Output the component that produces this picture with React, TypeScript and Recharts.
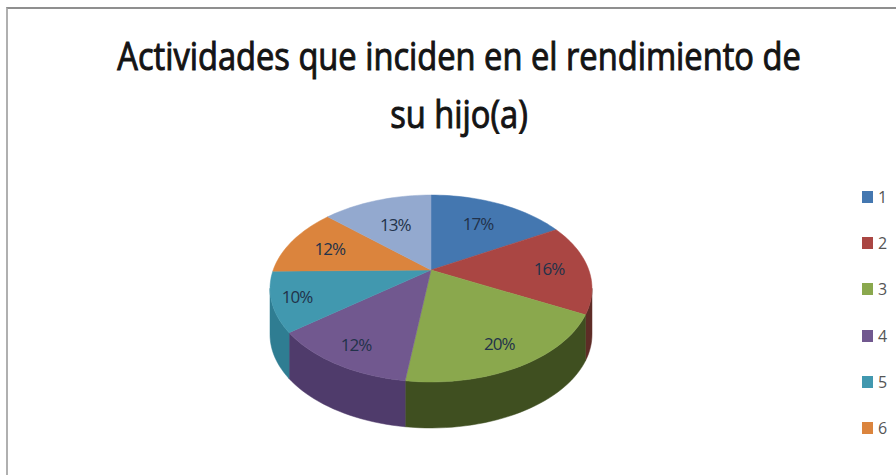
import React from 'react';
import { PieChart, Pie, Cell, Legend } from 'recharts';

const titleLines = ['Actividades que inciden en el rendimiento de', 'su hijo(a)'];
const categories = ['1', '2', '3', '4', '5', '6', '7'];
const values = [16.8, 15.7, 19.6, 12.4, 10.3, 11.9, 13.3];
const legendCategories = ['1', '2', '3', '4', '5', '6'];

const topColors = ['#4477b0', '#aa4643', '#8aa84d', '#71588f', '#4198af', '#db843d', '#93a9cf'];
const wallColors = ['#2c4a70', '#5e2c26', '#3f4f20', '#4f3b6b', '#2f7d92', '#8f5526', '#5f6f88'];
const labelRadii = [0.66, 0.75, 0.8, 0.82, 0.85, 0.72, 0.62];

const data = categories.map((name, i) => ({ name, value: values[i] }));

// Perspective projection of the pie's disc
const SX = 157.8;
const SY = 89.8;
const PERSP = 0.198;
const DEPTH = 46;
const FRONT_FROM = 101.3;
const FRONT_TO = 258.7;

const project = (cx: number, cy: number, clockDeg: number, r = 1) => {
  const a = (clockDeg * Math.PI) / 180;
  const u = r * Math.sin(a);
  const v = -r * Math.cos(a);
  const w = 1 - PERSP * v;
  return { x: cx + (SX * u) / w, y: cy + (SY * v) / w };
};

const arcPoints = (cx: number, cy: number, from: number, to: number) => {
  const pts: { x: number; y: number }[] = [];
  const n = Math.max(2, Math.ceil((to - from) / 2));
  for (let i = 0; i <= n; i++) pts.push(project(cx, cy, from + ((to - from) * i) / n));
  return pts;
};

const toPath = (pts: { x: number; y: number }[]) =>
  'M' + pts.map((p) => `${p.x.toFixed(2)},${p.y.toFixed(2)}`).join('L') + 'Z';

const Slice = (props: any) => {
  const { cx, cy, startAngle, endAngle, index } = props;
  const from = 90 - startAngle;
  const to = 90 - endAngle;
  const i = index ?? 0;
  const top = [{ x: cx, y: cy }, ...arcPoints(cx, cy, from, to)];
  const wallFrom = Math.max(from, FRONT_FROM);
  const wallTo = Math.min(to, FRONT_TO);
  let wall: string | null = null;
  if (wallTo > wallFrom) {
    const rim = arcPoints(cx, cy, wallFrom, wallTo);
    const lower = rim.map((p) => ({ x: p.x, y: p.y + DEPTH })).reverse();
    wall = toPath([...rim, ...lower]);
  }
  return (
    <g>
      {wall && <path d={wall} fill={wallColors[i]} stroke={wallColors[i]} strokeWidth={0.5} />}
      <path d={toPath(top)} fill={topColors[i]} stroke={topColors[i]} strokeWidth={0.5} />
    </g>
  );
};

const SliceLabel = (props: any) => {
  const { cx, cy, midAngle, index, value } = props;
  const p = project(cx, cy, 90 - midAngle, labelRadii[index]);
  return (
    <text
      x={p.x}
      y={p.y}
      textAnchor="middle"
      dominantBaseline="central"
      fontFamily="'Open Sans', sans-serif"
      fontSize={17}
      fill="#22324a"
      style={{ letterSpacing: '-1px' }}
    >
      {Math.round(value)}%
    </text>
  );
};

const LegendContent = () => (
  <div>
    {legendCategories.map((name, i) => (
      <div key={name} style={{ display: 'flex', alignItems: 'center', height: 46.2 }}>
        <span style={{ width: 11, height: 12, background: topColors[i], display: 'inline-block', marginRight: 5 }} />
        <span style={{ fontFamily: "'Open Sans', sans-serif", fontSize: 16, color: '#555' }}>{name}</span>
      </div>
    ))}
  </div>
);

export default function App() {
  return (
    <div style={{ position: 'absolute', left: 0, top: 0, width: 896, height: 475, overflow: 'hidden', background: '#fff' }}>
      <div style={{ position: 'absolute', left: 6, top: 7, width: 900, height: 480, borderTop: '2px solid #8f8f8f', borderLeft: '2px solid #b0b0b0' }} />
      <div
        style={{
          position: 'absolute',
          left: 0,
          top: 26,
          width: 918,
          textAlign: 'center',
          fontFamily: "'Open Sans', sans-serif",
          fontSize: 38,
          lineHeight: '58px',
          color: '#141414',
          WebkitTextStroke: '1px #141414',
          transform: 'scaleX(0.859)',
          transformOrigin: '459px 0',
        }}
      >
        {titleLines.map((t) => (
          <div key={t} style={{ whiteSpace: 'nowrap' }}>{t}</div>
        ))}
      </div>
      <div style={{ position: 'absolute', left: 0, top: 0 }}>
        <PieChart width={896} height={475} margin={{ top: 0, right: 0, bottom: 0, left: 0 }}>
          <Pie
            data={data}
            dataKey="value"
            nameKey="name"
            cx={431}
            cy={270}
            outerRadius={100}
            startAngle={90}
            endAngle={-270}
            stroke="none"
            isAnimationActive={false}
            shape={Slice}
            label={SliceLabel}
            labelLine={false}
          >
            {data.map((d, i) => (
              <Cell key={d.name} fill={topColors[i]} />
            ))}
          </Pie>
          <Legend
            content={LegendContent}
            wrapperStyle={{ position: 'absolute', left: 862, top: 174, width: 34, bottom: 'auto', right: 'auto' }}
          />
        </PieChart>
      </div>
    </div>
  );
}
